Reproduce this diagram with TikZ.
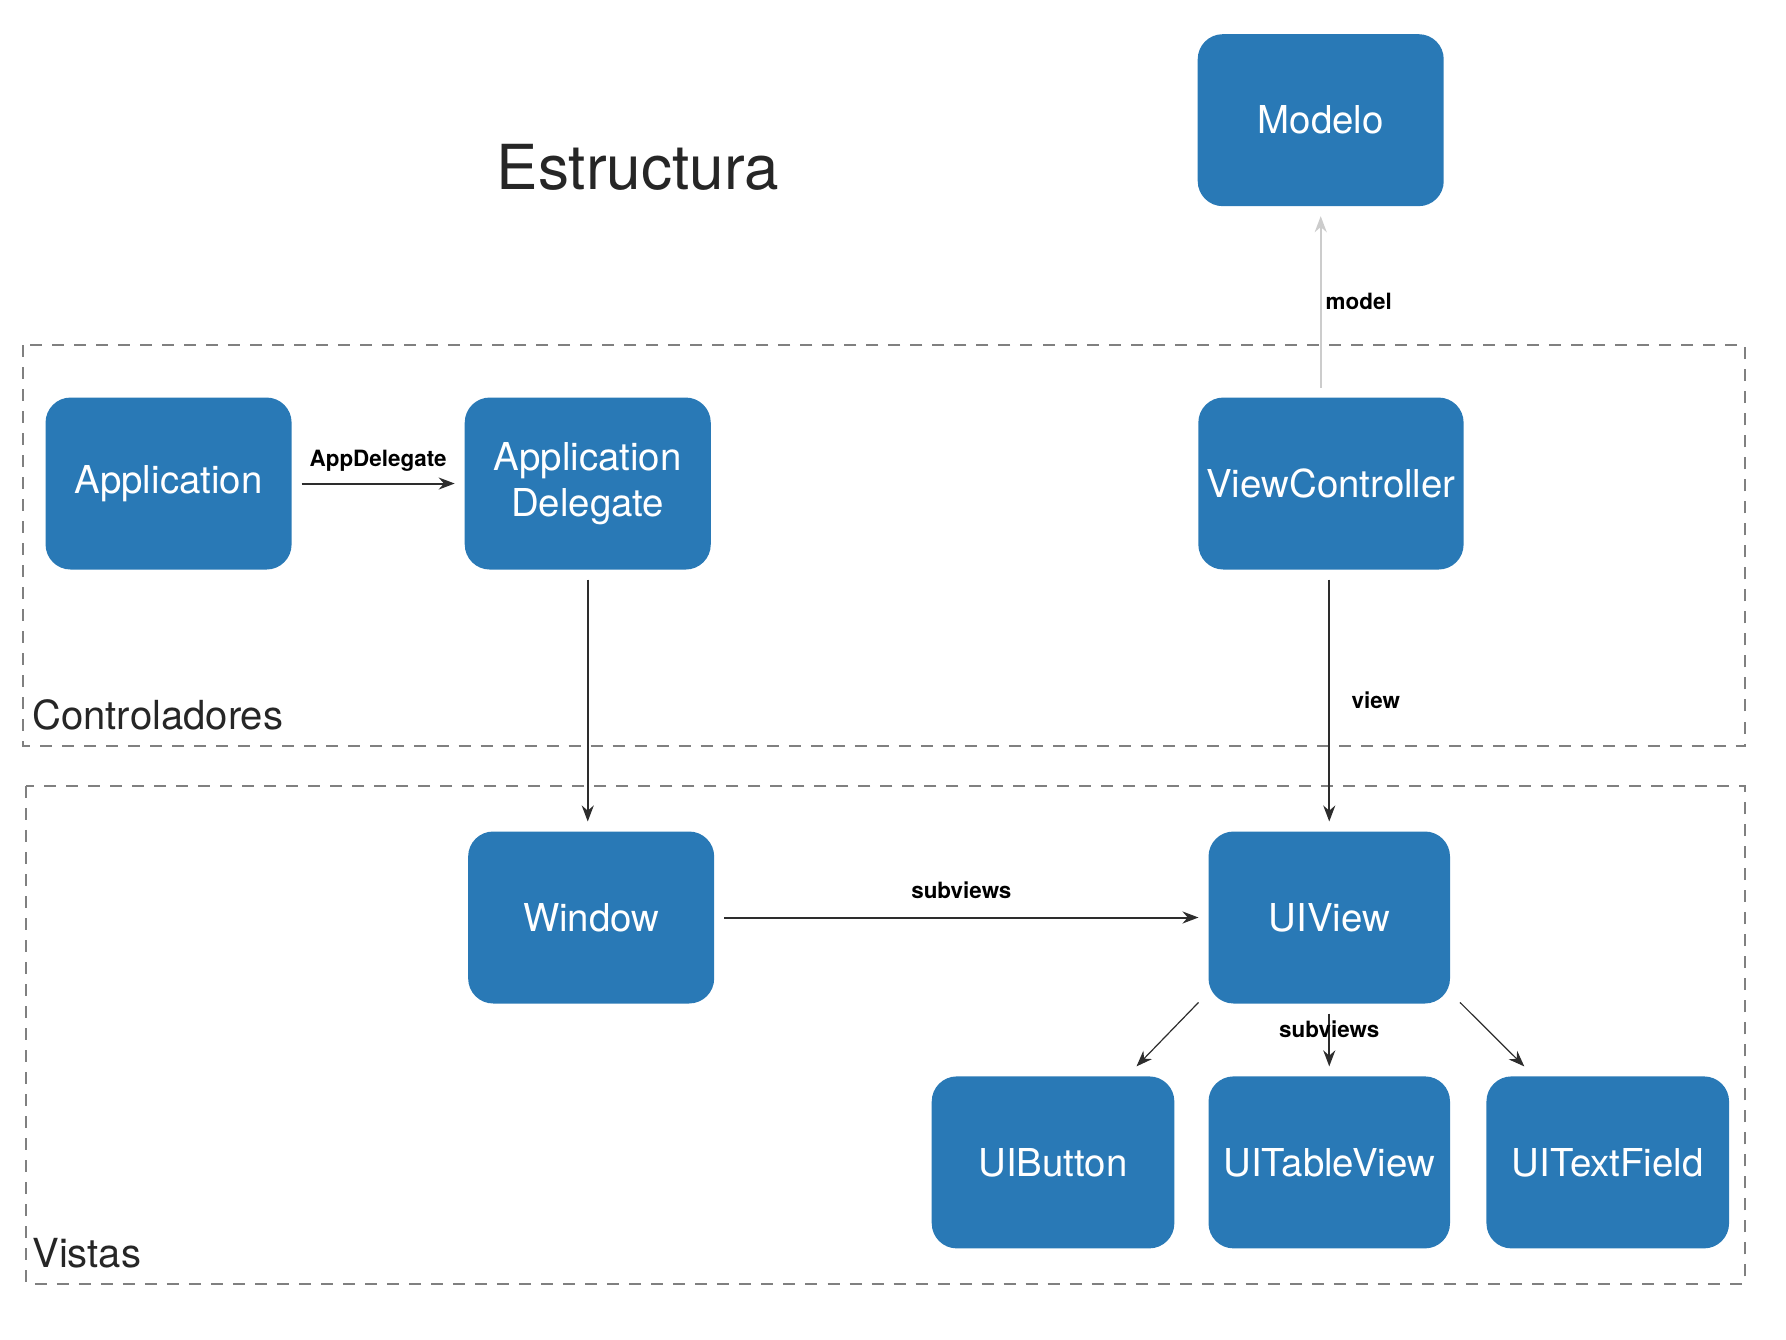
\documentclass[tikz,border=0pt]{standalone}
\usepackage{fontspec}
\setmainfont{TeX Gyre Heros}
\usetikzlibrary{arrows.meta}

\definecolor{boxblue}{RGB}{41,121,182}
\definecolor{linegray}{RGB}{45,45,45}

\tikzset{
  box/.style={rectangle, rounded corners=0.22cm, fill=boxblue, text=white,
    minimum width=2.16cm, minimum height=1.51cm, inner sep=2pt, outer sep=2.5pt,
    align=center, font=\fontsize{9.6}{11.4}\selectfont},
  link/.style={-{Stealth[length=4pt,width=3pt]}, line width=0.5pt, color=linegray},
  thinlink/.style={link, line width=0.3pt},
  lbl/.style={font=\fontsize{5.6}{6}\selectfont\bfseries, text=black},
  area/.style={gray, line width=0.5pt, dash pattern=on 3pt off 2.5pt},
}

\begin{document}
\begin{tikzpicture}
\useasboundingbox (0,0) rectangle (15.68,-11.764);

% title
\node[font=\fontsize{15.5}{18}\selectfont, text=black!85] (title) at (5.60,-1.47) {Estructura};

% dashed areas
\draw[area] (0.20,-3.03) rectangle (15.32,-6.55);
\draw[area] (0.23,-6.90) rectangle (15.32,-11.27);
\node[anchor=west, font=\fontsize{10}{12}\selectfont, text=black!85] (ctrl) at (0.16,-6.28) {Controladores};
\node[anchor=west, font=\fontsize{10}{12}\selectfont, text=black!85] (vistas) at (0.16,-11.00) {Vistas};

% boxes
\node[box] (modelo) at (11.595,-1.055) {Modelo};
\node[box] (app) at (1.48,-4.245) {Application};
\node[box] (appdel) at (5.16,-4.245) {Application\\Delegate};
\node[box, minimum width=2.31cm] (vc) at (11.685,-4.245) {ViewController};
\node[box] (window) at (5.19,-8.055) {Window};
\node[box, minimum width=2.12cm] (uiview) at (11.67,-8.055) {UIView};
\node[box, minimum width=2.13cm] (uibutton) at (9.245,-10.205) {UIButton};
\node[box, minimum width=2.12cm] (uitable) at (11.67,-10.205) {UITableView};
\node[box, minimum width=2.13cm] (uitext) at (14.115,-10.205) {UITextField};

% connectors
\draw[link] (app) -- node[lbl, above=-0.5pt] {AppDelegate} (appdel);
\draw[link] (appdel) -- (appdel |- window.north);
\draw[link, color=black!20] (vc.north -| modelo) -- node[lbl, right, inner sep=1pt] {model} (modelo);
\draw[link] (vc.south -| uiview) -- node[lbl, right=2pt] {view} (uiview);
\draw[link] (window) -- node[lbl, above=1pt] {subviews} (uiview);
\draw[thinlink] (uiview.-147) -- (uibutton.49);
\draw[link] (uiview) -- node[lbl, pos=0.3] {subviews} (uitable);
\draw[thinlink] (uiview.-33) -- (uitext.131);
\end{tikzpicture}
\end{document}
